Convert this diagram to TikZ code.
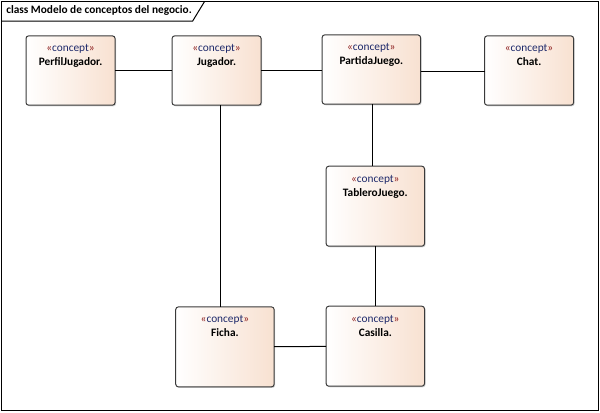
\documentclass[tikz,border=0pt]{standalone}
\usepackage{fontspec}
\setmainfont{Carlito}
\usetikzlibrary{positioning, shadows}

\definecolor{conceptfill}{HTML}{F8E1D1}
\definecolor{conceptline}{HTML}{3A3A3A}
\definecolor{stereoname}{HTML}{1F2A6B}
\definecolor{guillred}{HTML}{8B1A1A}

\newcommand{\stereo}{{\color{guillred}«}{\color{stereoname}concept}{\color{guillred}»}}

\begin{document}
\begin{tikzpicture}[font=\fontsize{8.5}{10.5}\selectfont]

    \tikzstyle{concept} = [draw=conceptline, line width=0.75pt, rectangle,
        rounded corners=2pt, left color=white, right color=conceptfill,
        drop shadow={shadow xshift=0.8pt, shadow yshift=-0.8pt, opacity=0.35},
        text width=60pt, align=center, inner xsep=3.4pt, inner ysep=3pt,
        outer sep=0pt, text height=9pt, text depth=37pt]
    \tikzstyle{bigconcept} = [concept, text width=67pt, text depth=45pt]

    \useasboundingbox (0,0) rectangle (450pt,-309pt);

    % Frame and its tab
    \draw[line width=0.75pt] (0.75pt,-0.75pt) rectangle (448.5pt,-307.5pt);
    \draw[line width=0.75pt] (0.75pt,-15.75pt) -- (144.5pt,-15.75pt) -- (153.5pt,-1pt);
    \node[anchor=west, inner sep=0pt] (title) at (4.5pt,-8.2pt)
        {\bfseries class Modelo de conceptos del negocio.};

    % Top row of concepts
    \node [concept] (perfil) at (52.9pt,-52.9pt) {\stereo\\\textbf{PerfilJugador.}};
    \node [concept, right=42.75pt of perfil] (jugador) {\stereo\\\textbf{Jugador.}};
    \node [concept, text width=67pt, right=45.75pt of jugador, yshift=0.75pt] (partida) {\stereo\\\textbf{PartidaJuego.}};
    \node [concept, right=48pt of partida, yshift=-0.75pt] (chat) {\stereo\\\textbf{Chat.}};

    % Board and its parts
    \node [bigconcept, below=46.5pt of partida, xshift=3pt] (tablero) {\stereo\\\textbf{TableroJuego.}};
    \node [bigconcept, below=45pt of tablero] (casilla) {\stereo\\\textbf{Casilla.}};
    \node [bigconcept, left=39pt of casilla, yshift=-0.5pt] (ficha) {\stereo\\\textbf{Ficha.}};

    % Connect the concepts
    \draw[line width=0.75pt]

        % Top row
        (perfil) edge (jugador)
        (jugador.east) edge (jugador.east -| partida.west)
        ([yshift=-1.5pt]partida.east) edge ([yshift=-1.5pt]partida.east -| chat.west)

        % Down the columns
        ([xshift=2.6pt]jugador.south) edge ([xshift=2.6pt]jugador.south |- ficha.north)
        ([xshift=1.1pt]partida.south) edge ([xshift=1.1pt]partida.south |- tablero.north)
        (tablero) edge (casilla)

        % Bottom row
        (ficha) edge (casilla);

\end{tikzpicture}
\end{document}
